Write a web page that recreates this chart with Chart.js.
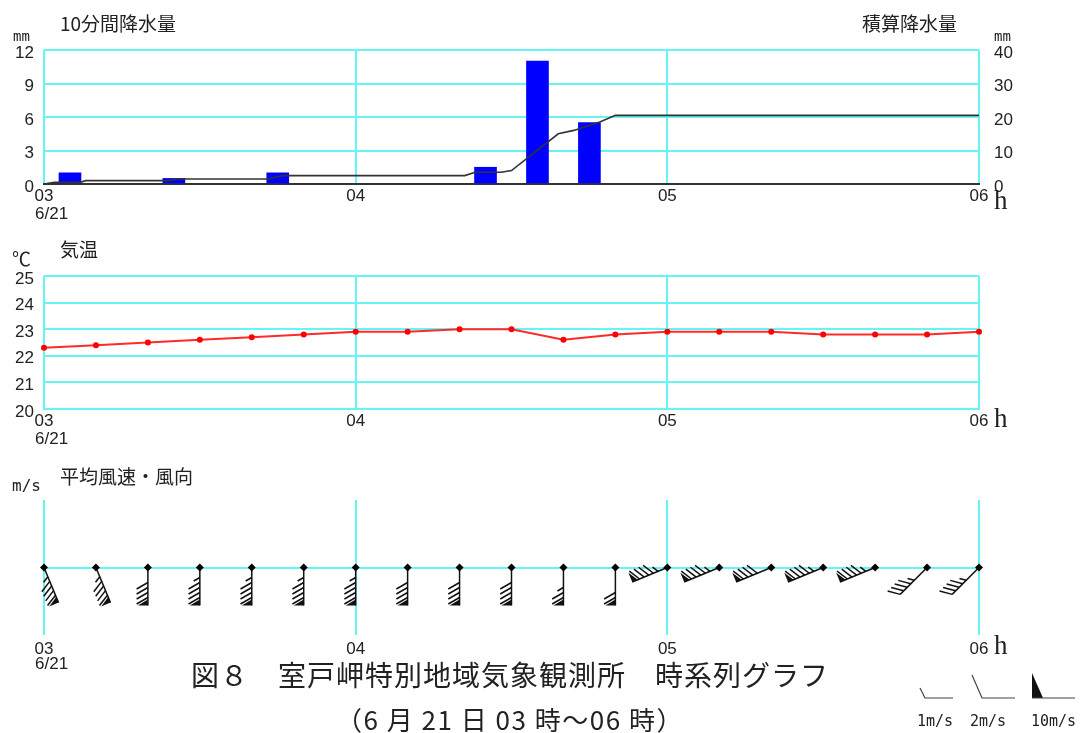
<!DOCTYPE html>
<html>
<head>
<meta charset="utf-8">
<script src="https://cdn.jsdelivr.net/npm/chart.js@4.4.1/dist/chart.umd.min.js"></script>
<style>
  body { margin: 0; background: #fff; }
  #wrap { position: relative; width: 1084px; height: 733px; overflow: hidden; background: #fff; color: #222; font-family: "Noto Sans CJK JP", sans-serif; }
  canvas { position: absolute; left: 0; }
  .t { position: absolute; white-space: nowrap; line-height: 1; }
  .ttl { font-size: 19px; }
  .unit { font-family: "DejaVu Sans Mono", monospace; font-size: 14px; }
  .num { font-family: "Liberation Sans", Arial, sans-serif; font-size: 17px; }
  .h { font-family: "Liberation Serif", serif; font-size: 27px; }
</style>
</head>
<body>
<div id="wrap">
  <canvas id="rainChart" width="1084" height="215" style="top:0"></canvas>
  <canvas id="tempChart" width="1084" height="215" style="top:230px"></canvas>
  <canvas id="windChart" width="1084" height="215" style="top:450px"></canvas>
  <canvas id="barbKey" width="180" height="45" style="left:904px;top:664px"></canvas>

  <div class="t ttl" style="left:60px;top:13px">10分間降水量</div>
  <div class="t unit" style="left:13px;top:29px">mm</div>
  <div class="t ttl" style="left:862px;top:13px">積算降水量</div>
  <div class="t unit" style="left:994px;top:29px">mm</div>
  <div class="t num" style="left:35px;top:205px">6/21</div>
  <div class="t h" style="left:994px;top:187px">h</div>

  <div class="t ttl" style="left:12px;top:248px">℃</div>
  <div class="t ttl" style="left:60px;top:239px">気温</div>
  <div class="t num" style="left:35px;top:430px">6/21</div>
  <div class="t h" style="left:994px;top:405px">h</div>

  <div class="t unit" style="left:12px;top:478px;font-size:16px">m/s</div>
  <div class="t ttl" style="left:60px;top:466px">平均風速・風向</div>
  <div class="t num" style="left:35px;top:655px">6/21</div>
  <div class="t h" style="left:994px;top:632px">h</div>

  <div class="t" style="left:0;width:1020px;text-align:center;top:660px;font-size:28px;letter-spacing:1px">図８　室戸岬特別地域気象観測所　時系列グラフ</div>
  <div class="t" style="left:0;width:1020px;text-align:center;top:706px;font-size:26px;letter-spacing:1.5px">（6 月 21 日 03 時～06 時）</div>
  <div class="t unit" style="left:917px;top:714px;font-size:15px">1m/s</div>
  <div class="t unit" style="left:970px;top:714px;font-size:15px">2m/s</div>
  <div class="t unit" style="left:1031px;top:714px;font-size:15px">10m/s</div>
</div>

<script>
"use strict"

// time axis: minutes after 03:00, hour ticks every 60
const hourLabels = ['03', '04', '05', '06'];

// 10-minute precipitation (mm), one value per 10-min interval 03:00-06:00
const rain10 = [1.0, 0, 0.5, 0, 1.0, 0, 0, 0, 1.5, 11.0, 5.5, 0, 0, 0, 0, 0, 0, 0];

// accumulated precipitation (mm)
const cumMinutes = [0, 2, 7, 8, 24, 26, 43, 46, 81, 83, 88, 90, 99, 102, 107, 110, 180];
const cumRain = [0, 0.5, 0.5, 1.0, 1.0, 1.5, 1.5, 2.5, 2.5, 3.5, 3.5, 4.0, 15.0, 16.0, 18.5, 20.5, 20.5];

// air temperature every 10 minutes (deg C)
const temps = [22.3, 22.4, 22.5, 22.6, 22.7, 22.8, 22.9, 22.9, 23.0, 23.0,
               22.6, 22.8, 22.9, 22.9, 22.9, 22.8, 22.8, 22.8, 22.9];

// mean wind every 10 minutes: direction the wind blows from (deg) and speed (m/s)
const windDir = [157.5, 157.5, 180, 180, 180, 180, 180, 180, 180, 180,
                 180, 180, 247.5, 247.5, 247.5, 247.5, 247.5, 225, 225];
const windSpeed = [19, 19, 18, 19, 19, 19, 19, 18, 18, 18,
                   15, 14, 19, 19, 18, 19, 19, 9, 9];

const GRID = '#66f5f5';
const NONE = 'rgba(0,0,0,0)';

Chart.defaults.font.family = '"Liberation Sans", Arial, sans-serif';
Chart.defaults.font.size = 17;
Chart.defaults.color = '#222';

function fixWidth(w) { return function (scale) { scale.width = w; }; }
function fixHeight(h) { return function (scale) { scale.height = h; }; }

function timeAxis(height, pad, border) {
  return {
    type: 'linear', min: 0, max: 180, offset: false,
    afterFit: fixHeight(height),
    ticks: { stepSize: 60, padding: pad, maxRotation: 0, autoSkip: false,
             callback: v => hourLabels[v / 60] },
    grid: { color: GRID, lineWidth: 2, drawTicks: false, offset: false },
    border: border
  };
}

const baseOptions = {
  responsive: false,
  animation: false,
  events: [],
  plugins: { legend: { display: false }, tooltip: { enabled: false } }
};

// ---- precipitation ----
new Chart(document.getElementById('rainChart'), {
  type: 'bar',
  data: {
    datasets: [{
      type: 'line',
      data: cumMinutes.map((m, i) => ({ x: m, y: cumRain[i] })),
      yAxisID: 'y2',
      borderColor: '#333',
      borderWidth: 1.6,
      pointRadius: 0,
      tension: 0,
      clip: false,
      order: 0
    }, {
      type: 'bar',
      data: rain10.map((v, i) => ({ x: i * 10 + 5, y: v })).filter(p => p.y > 0),
      backgroundColor: '#0000ff',
      barThickness: 22,
      yAxisID: 'y',
      order: 1
    }]
  },
  options: Object.assign({}, baseOptions, {
    layout: { padding: { top: 50, left: 0, right: 0, bottom: 0 } },
    scales: {
      x: timeAxis(31, 2, { display: true, color: '#333', width: 2 }),
      y: {
        position: 'left', min: 0, max: 12,
        afterFit: fixWidth(44),
        ticks: { stepSize: 3, padding: 10, labelOffset: 3 },
        grid: { color: c => (c.tick && c.tick.value === 0) ? NONE : GRID, lineWidth: 2, drawTicks: false },
        border: { display: false }
      },
      y2: {
        position: 'right', min: 0, max: 40,
        afterFit: fixWidth(105),
        ticks: { stepSize: 10, padding: 15, labelOffset: 3 },
        grid: { drawOnChartArea: false, drawTicks: false },
        border: { display: false }
      }
    }
  })
});

// ---- temperature ----
new Chart(document.getElementById('tempChart'), {
  type: 'line',
  data: {
    datasets: [{
      data: temps.map((v, i) => ({ x: i * 10, y: v })),
      borderColor: '#ff2a2a',
      borderWidth: 2,
      pointRadius: 3,
      pointBackgroundColor: '#ff0000',
      pointBorderWidth: 0,
      tension: 0,
      clip: false
    }]
  },
  options: Object.assign({}, baseOptions, {
    layout: { padding: { top: 46, left: 0, right: 105, bottom: 0 } },
    scales: {
      x: timeAxis(36, 2, { display: true, color: GRID, width: 2 }),
      y: {
        min: 20, max: 25,
        afterFit: fixWidth(44),
        ticks: { stepSize: 1, padding: 10, labelOffset: 3 },
        grid: { color: GRID, lineWidth: 2, drawTicks: false },
        border: { display: false }
      }
    }
  })
});

// ---- wind barbs ----
function drawBarb(ctx, x, y, dirDeg, speed) {
  const a = dirDeg * Math.PI / 180;
  const dx = Math.sin(a), dy = -Math.cos(a);           // staff points to where wind comes from
  const c60 = Math.cos(Math.PI / 3), s60 = Math.sin(Math.PI / 3);
  const bx = c60 * dx - s60 * dy, by = s60 * dx + c60 * dy; // barb leaning toward the tip
  const px = -dy, py = dx;                              // perpendicular for pennants
  const staff = 38;

  ctx.save();
  ctx.strokeStyle = '#111';
  ctx.fillStyle = '#111';
  ctx.lineWidth = 1.5;
  ctx.beginPath();
  ctx.moveTo(x, y);
  ctx.lineTo(x + dx * staff, y + dy * staff);
  ctx.stroke();

  let rest = Math.round(speed);
  const pennants = Math.floor(rest / 10); rest -= pennants * 10;
  const longs = Math.floor(rest / 2); rest -= longs * 2;
  let pos = staff;
  for (let k = 0; k < pennants; k++) {
    ctx.beginPath();
    ctx.moveTo(x + dx * pos, y + dy * pos);
    ctx.lineTo(x + dx * pos + px * 10, y + dy * pos + py * 10);
    ctx.lineTo(x + dx * (pos - 6), y + dy * (pos - 6));
    ctx.closePath();
    ctx.fill();
    pos -= 8;
  }
  const draws = [];
  for (let k = 0; k < longs; k++) draws.push(13);
  if (rest) draws.push(7);
  draws.forEach(len => {
    const sx = x + dx * pos, sy = y + dy * pos;
    ctx.beginPath();
    ctx.moveTo(sx, sy);
    ctx.lineTo(sx + bx * len, sy + by * len);
    ctx.stroke();
    pos -= 5;
  });
  ctx.restore();
}

const barbPlugin = {
  id: 'barbs',
  beforeDatasetsDraw(chart) {
    const meta = chart.getDatasetMeta(0);
    meta.data.forEach((pt, i) => drawBarb(chart.ctx, pt.x, pt.y, windDir[i], windSpeed[i]));
  }
};

new Chart(document.getElementById('windChart'), {
  type: 'scatter',
  data: {
    datasets: [{
      data: windSpeed.map((s, i) => ({ x: i * 10, y: 0 })),
      pointStyle: 'rectRot',
      pointRadius: 4,
      pointBackgroundColor: '#000',
      pointBorderWidth: 0,
      clip: false
    }]
  },
  options: Object.assign({}, baseOptions, {
    layout: { padding: { top: 50, left: 0, right: 105, bottom: 0 } },
    scales: {
      x: timeAxis(30, 4, { display: false }),
      y: {
        min: -1, max: 1,
        afterFit: fixWidth(44),
        ticks: { stepSize: 1, display: false },
        grid: { color: c => (c.tick && c.tick.value === 0) ? GRID : NONE, lineWidth: 2, drawTicks: false },
        border: { display: false }
      }
    }
  }),
  plugins: [barbPlugin]
});

// ---- barb key (bottom right) ----
(function () {
  const ctx = document.getElementById('barbKey').getContext('2d');
  ctx.strokeStyle = '#444';
  ctx.fillStyle = '#111';
  ctx.lineWidth = 1.2;
  const base = 34;
  // 1 m/s
  ctx.beginPath(); ctx.moveTo(16, 24); ctx.lineTo(21, base); ctx.lineTo(49, base); ctx.stroke();
  // 2 m/s
  ctx.beginPath(); ctx.moveTo(68, 11); ctx.lineTo(78, base); ctx.lineTo(111, base); ctx.stroke();
  // 10 m/s
  ctx.beginPath(); ctx.moveTo(128, 9); ctx.lineTo(128, base); ctx.lineTo(139, base); ctx.closePath(); ctx.fill();
  ctx.beginPath(); ctx.moveTo(128, base); ctx.lineTo(171, base); ctx.stroke();
})();
</script>
</body>
</html>
